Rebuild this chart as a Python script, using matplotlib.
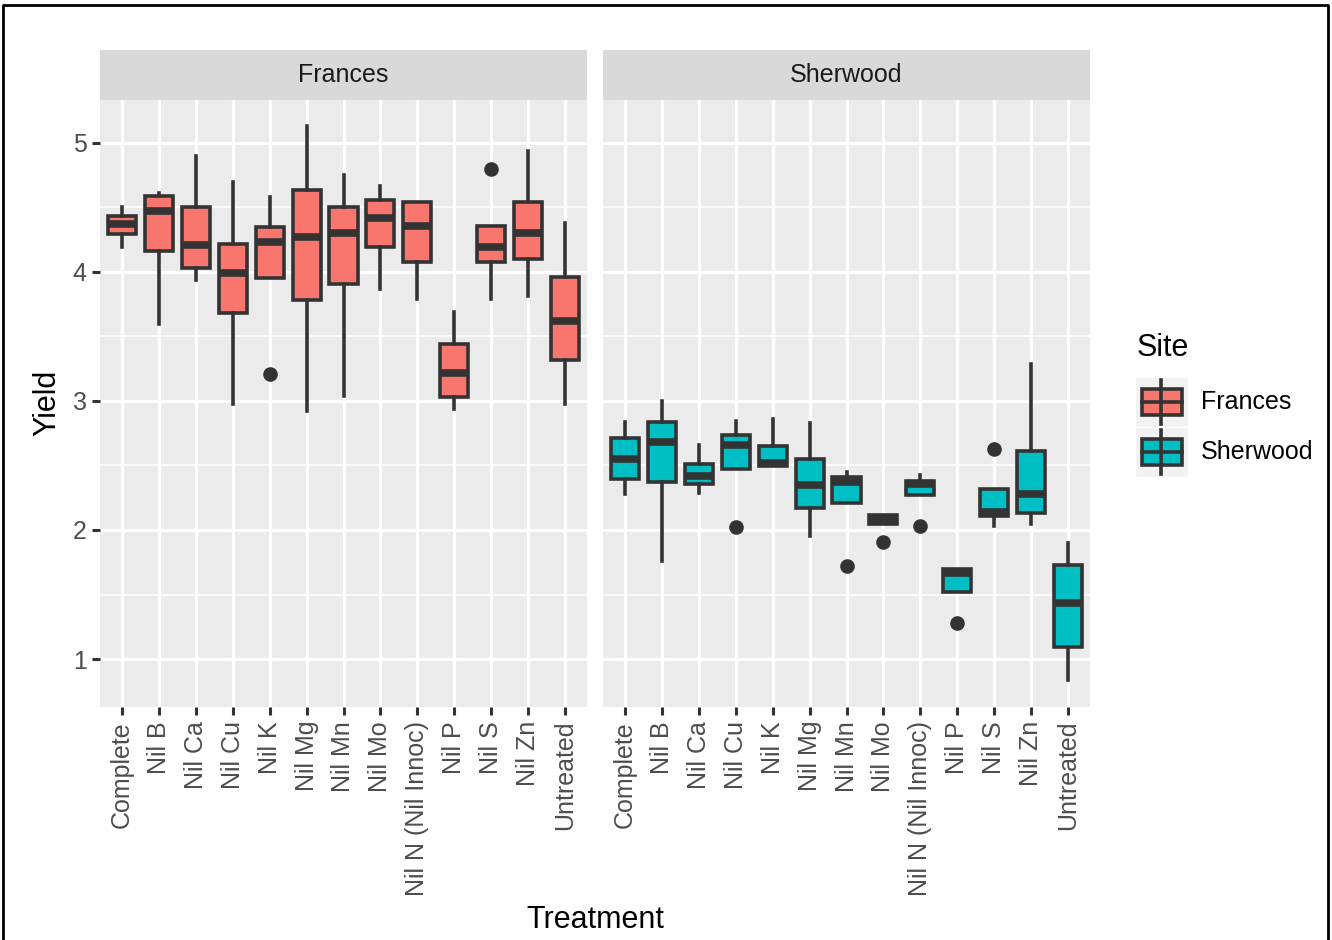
# -*- coding: utf-8 -*-
"""
Yield by treatment, boxplots faceted by site (ggplot look)
"""
import matplotlib
matplotlib.use("Agg")
import matplotlib.pyplot as plt
from matplotlib.lines import Line2D
from matplotlib.patches import Rectangle
from matplotlib.ticker import MultipleLocator

plt.rcParams['font.family'] = ['Liberation Sans', 'DejaVu Sans']

treatments = ['Complete', 'Nil B', 'Nil Ca', 'Nil Cu', 'Nil K', 'Nil Mg', 'Nil Mn',
              'Nil Mo', 'Nil N (Nil Innoc)', 'Nil P', 'Nil S', 'Nil Zn', 'Untreated']
sites = ['Frances', 'Sherwood']
site_colors = ['#F8766D', '#00BFC4']

# Frances : lower whisker, Q1, median, Q3, upper whisker, outliers
fr_low = [4.19, 3.60, 3.94, 2.98, 3.95, 2.92, 3.04, 3.87, 3.79, 2.94, 3.79, 3.81, 2.98]
fr_q1  = [4.295, 4.165, 4.03, 3.685, 3.95, 3.78, 3.91, 4.196, 4.08, 3.03, 4.08, 4.10, 3.32]
fr_med = [4.372, 4.47, 4.21, 3.99, 4.23, 4.27, 4.30, 4.416, 4.36, 3.215, 4.196, 4.305, 3.62]
fr_q3  = [4.434, 4.59, 4.50, 4.217, 4.35, 4.636, 4.506, 4.56, 4.545, 3.44, 4.36, 4.545, 3.96]
fr_high= [4.506, 4.61, 4.90, 4.70, 4.58, 5.13, 4.75, 4.667, 4.545, 3.69, 4.36, 4.94, 4.38]
fr_out = [[], [], [], [], [3.21], [], [], [], [], [], [4.80], [], []]

# Sherwood
sh_low = [2.277, 1.76, 2.29, 2.47, 2.496, 1.95, 2.21, 2.05, 2.27, 1.52, 2.03, 2.05, 0.84]
sh_q1  = [2.395, 2.37, 2.357, 2.47, 2.496, 2.17, 2.21, 2.05, 2.27, 1.52, 2.11, 2.13, 1.09]
sh_med = [2.548, 2.68, 2.42, 2.655, 2.52, 2.35, 2.37, 2.085, 2.355, 1.665, 2.137, 2.277, 1.432]
sh_q3  = [2.71, 2.84, 2.51, 2.736, 2.65, 2.55, 2.41, 2.12, 2.38, 1.70, 2.32, 2.61, 1.73]
sh_high= [2.84, 3.00, 2.66, 2.845, 2.858, 2.83, 2.45, 2.12, 2.43, 1.70, 2.32, 3.29, 1.90]
sh_out = [[], [], [], [2.02], [], [], [1.72], [1.91], [2.03], [1.28], [2.63], [], []]

W, H = 1332, 940
dark = '#333333'


def px_rect(x0, y0, x1, y1):
	# pixel box (top-left origin) -> figure fraction
	return [x0 / W, 1 - y1 / H, (x1 - x0) / W, (y1 - y0) / H]


def make_stats(lo, q1, med, q3, hi, out):
	stats = []
	for i in range(len(lo)):
		stats.append(dict(whislo=lo[i], q1=q1[i], med=med[i], q3=q3[i],
		                  whishi=hi[i], fliers=out[i]))
	return stats


fig = plt.figure(figsize=(W / 100, H / 100), dpi=100)

panels = [(100, 587), (603, 1090)]
data = [(fr_low, fr_q1, fr_med, fr_q3, fr_high, fr_out),
        (sh_low, sh_q1, sh_med, sh_q3, sh_high, sh_out)]

for k in range(2):
	x0, x1 = panels[k]
	ax = fig.add_axes(px_rect(x0, 100, x1, 707))
	ax.set_facecolor('#EBEBEB')
	for s in ax.spines.values():
		s.set_visible(False)
	pos = list(range(len(treatments)))
	ax.bxp(make_stats(*data[k]), positions=pos, widths=0.76, patch_artist=True,
	       showcaps=False,
	       boxprops=dict(facecolor=site_colors[k], edgecolor=dark, linewidth=2.6),
	       medianprops=dict(color=dark, linewidth=5.5, solid_capstyle='butt'),
	       whiskerprops=dict(color=dark, linewidth=2.6),
	       flierprops=dict(marker='o', markerfacecolor=dark, markeredgecolor=dark,
	                       markersize=9.5))
	ax.set_xlim(-0.6, len(treatments) - 0.4)
	ax.set_ylim(0.628, 5.333)
	ax.set_xticks(pos)
	ax.set_xticklabels(treatments, rotation=90, fontsize=18, color='#4D4D4D')
	ax.yaxis.set_major_locator(MultipleLocator(1))
	ax.yaxis.set_minor_locator(MultipleLocator(0.5))
	ax.set_axisbelow(True)
	ax.grid(which='major', color='white', linewidth=2.3)
	ax.grid(which='minor', axis='y', color='white', linewidth=1.2)
	ax.tick_params(axis='x', length=6, width=2.2, color=dark, pad=4)
	ax.tick_params(axis='y', which='major', length=5.5, width=2.2, color=dark, pad=4,
	               labelsize=18, labelcolor='#4D4D4D')
	ax.tick_params(axis='y', which='minor', length=0)
	if k == 1:
		ax.tick_params(axis='y', which='major', length=0, labelleft=False)

	# strip
	sax = fig.add_axes(px_rect(x0, 50, x1, 100))
	sax.set_facecolor('#D9D9D9')
	sax.set_xticks([])
	sax.set_yticks([])
	for s in sax.spines.values():
		s.set_visible(False)
	sax.text(0.5, 0.5, sites[k], ha='center', va='center', fontsize=18,
	         color='#1A1A1A', transform=sax.transAxes)

# axis titles
fig.text(47 / W, 1 - 403 / H, 'Yield', rotation=90, ha='center', va='center', fontsize=22)
fig.text(595 / W, 1 - 920 / H, 'Treatment', ha='center', va='center', fontsize=22)

# legend, drawn in pixel space
lax = fig.add_axes([0, 0, 1, 1])
lax.set_xlim(0, W)
lax.set_ylim(H, 0)
lax.axis('off')
lax.text(1137, 348, 'Site', ha='left', va='center', fontsize=22)
for k in range(2):
	top = 377 + k * 50
	lax.add_patch(Rectangle((1135, top), 53, 50, facecolor='#F2F2F2', edgecolor='white', lw=1))
	cy = top + 25
	lax.add_line(Line2D([1161, 1161], [cy - 22, cy + 22], color=dark, lw=2.6))
	lax.add_patch(Rectangle((1141.5, cy - 13), 40, 26, facecolor=site_colors[k],
	                        edgecolor=dark, lw=2.6))
	lax.add_line(Line2D([1141.5, 1181.5], [cy, cy], color=dark, lw=2.6))
	lax.text(1201, cy, sites[k], ha='left', va='center', fontsize=18)

# outer frame
lax.add_line(Line2D([2.5, 2.5, 1327.5, 1327.5], [H, 5, 5, H], color='black', lw=2))

fig.savefig('out.png', dpi=100)
